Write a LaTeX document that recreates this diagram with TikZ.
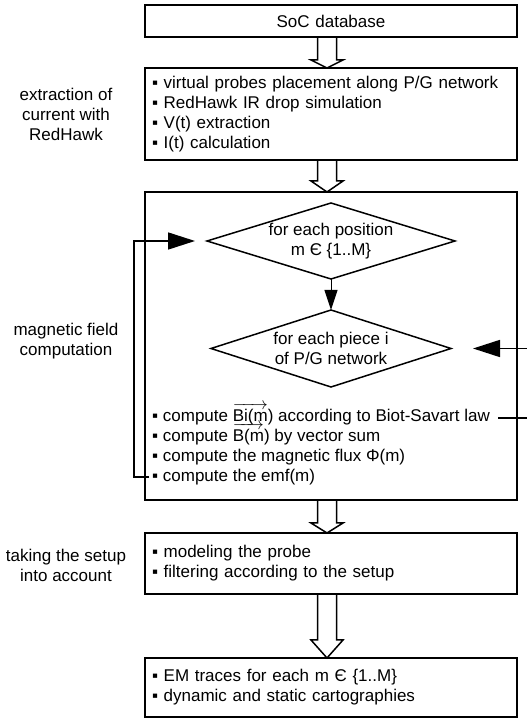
\documentclass[tikz,border=0pt]{standalone}
\usepackage{fontspec}
\setmainfont{Liberation Sans}
\usetikzlibrary{positioning,calc,shapes.geometric,arrows.meta}
\newcommand{\vb}[1]{\smash{$\overrightarrow{\mbox{#1}}$}}
\tikzset{
  stepbox/.style={draw,line width=1.5pt,outer sep=0pt,minimum width=372pt,
    inner xsep=7pt,inner ysep=0pt,text width=358pt,align=left},
  cond/.style={diamond,draw,line width=1.5pt,outer sep=0pt,inner sep=0pt,
    aspect=3.2,align=center},
  sidenote/.style={align=center,inner sep=0pt},
  feedback/.style={line width=1.6pt,-{Triangle[length=27pt,width=17pt]}},
  hollow/.style={line width=1.5pt,
    to path={let \p1=(\tikztostart),\p2=(\tikztotarget) in
      (\x1-9.5pt,\y1) -- (\x1-9.5pt,\y2+#1) -- (\x1-16pt,\y2+#1) -- (\x1,\y2)
      -- (\x1+16pt,\y2+#1) -- (\x1+9.5pt,\y2+#1) -- (\x1+9.5pt,\y1)}},
  hollow/.default=10pt
}
\begin{document}
\begin{tikzpicture}[x=1pt,y=1pt,every node/.style={font=\fontsize{17}{20}\selectfont}]
  \useasboundingbox (0,0) rectangle (527,723);
  \clip (0,0) rectangle (527,723);

  % main chain
  \node [stepbox,minimum height=32pt,align=center] (soc) at (331,702) {SoC database};
  \node [stepbox,minimum height=92pt,below=31pt of soc] (probes)
    {▪ virtual probes placement along P/G network\\
     ▪ RedHawk IR drop simulation\\
     ▪ V(t) extraction\\
     ▪ I(t) calculation};
  \node [stepbox,minimum height=308pt,below=32pt of probes] (field) {};
  \node [stepbox,minimum height=61pt,below=33pt of field] (setup)
    {▪ modeling the probe\\
     ▪ filtering according to the setup};
  \node [stepbox,minimum height=59pt,below=64pt of setup] (traces)
    {▪ EM traces for each m Є \{1..M\}\\
     ▪ dynamic and static cartographies};

  % inside the field box
  \node [cond,minimum width=248pt,minimum height=76pt,below=11pt of field.north] (pos)
    {for each position\\m Є \{1..M\}};
  \node [cond,minimum width=240pt,minimum height=77pt,below=31pt of pos] (piece)
    {for each piece i\\of P/G network};
  \draw [-{Triangle[length=20pt,width=13pt]},line width=1pt] (pos) -- (piece);
  \node [above right=15pt and 0pt of field.south west,inner xsep=7pt,inner ysep=0pt,align=left] (comp)
    {▪ compute \vb{Bi(m}) according to Biot-Savart law\\
     ▪ compute \vb{B(m}) by vector sum\\
     ▪ compute the magnetic flux Φ(m)\\
     ▪ compute the emf(m)};

  % loops
  \coordinate (emf) at (149,246);
  \coordinate (law) at (498,305);
  \coordinate (lbend) at (134,0);
  \coordinate (rbend) at (535,0);
  \draw [feedback,shorten >=12pt] (emf) -- (emf -| lbend) |- (pos.west);
  \draw [feedback,shorten >=22pt] (law) -- (law -| rbend) |- (piece.east);

  % hollow arrows
  \coordinate (ax) at (327,0);
  \draw [hollow=8pt] (soc.south -| ax) to (probes.north -| ax);
  \draw [hollow=11pt] (probes.south -| ax) to (field.north -| ax);
  \draw [hollow] (field.south -| ax) to (setup.north -| ax);
  \draw [hollow=18pt] (setup.south -| ax) to (traces.north -| ax);

  % side notes
  \coordinate (labx) at (66,0);
  \node [sidenote] (lprobes) at (probes.west -| labx) {extraction of\\current with\\RedHawk};
  \node [sidenote] (lfield) at ($(field.west -| labx)+(0,5)$) {magnetic field\\computation};
  \node [sidenote] (lsetup) at ($(setup.west -| labx)+(0,-2)$) {taking the setup\\into account};
\end{tikzpicture}
\end{document}
